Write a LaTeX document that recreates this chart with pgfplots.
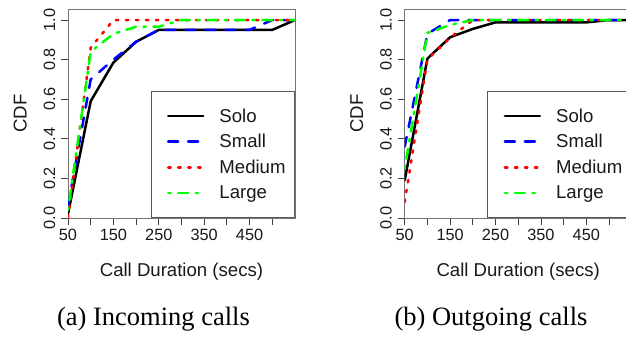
\documentclass[border=0pt]{standalone}
\usepackage{pgfplots}
\pgfplotsset{compat=1.18}
\usepackage{fontspec}
\setmainfont{Liberation Serif}
\newfontfamily\arial{Liberation Sans}
\definecolor{rblue}{RGB}{0,0,255}
\definecolor{rred}{RGB}{255,0,0}
\definecolor{rgreen}{RGB}{0,255,0}
\newcommand{\labfont}{\arial\fontsize{18.6bp}{21bp}\selectfont}
\pgfplotsset{
  rcdf/.style={
    scale only axis, width=227bp, height=209bp,
    xmin=50, xmax=550, ymin=0, ymax=1.0556,
    axis line style={black!55, line width=0.8bp},
    tick style={black!75, line width=0.8bp},
    tick align=outside, major tick length=7bp,
    xtick={50,100,...,500}, xticklabels={50,,150,,250,,350,,450,},
    ytick={0,0.2,0.4,0.6,0.8,1.0}, yticklabels={0.0,0.2,0.4,0.6,0.8,1.0},
    xtick pos=left, ytick pos=left,
    ticklabel style={font=\arial\fontsize{16.3bp}{19bp}\selectfont, text=black!90},
    xticklabel style={anchor=base}, xticklabel shift=15bp,
    yticklabel style={rotate=90, anchor=base}, yticklabel shift=6bp,
    xlabel={Call Duration (secs)}, ylabel={CDF},
    every axis x label/.style={at={([yshift=-58.3bp]axis description cs:0.5,0)}, anchor=base, font=\labfont, text=black!90},
    every axis y label/.style={at={([xshift=-41.5bp]axis description cs:0,0.5)}, rotate=90, anchor=base, font=\labfont, text=black!90},
    legend cell align=left,
    legend style={at={(rel axis cs:1,0)}, anchor=south east, draw=black!65, line width=0.8bp,
      fill=white, inner xsep=9bp, inner ysep=11.6bp, row sep=0bp, column sep=15bp,
      font=\labfont, text=black!90,
      nodes={inner sep=0pt, minimum height=25.7bp}},
    legend image code/.code={\path (0bp,0bp); \draw[##1] (7bp,0bp) -- (42bp,0bp);},
    every axis plot/.append style={line width=2.5bp, line cap=round, line join=round},
  },
  solo/.style={black, solid},
  small/.style={rblue, dash pattern=on 10bp off 10bp},
  medium/.style={rred, dash pattern=on 2.5bp off 7.5bp},
  large/.style={rgreen, dash pattern=on 2.5bp off 7.5bp on 10bp off 7.5bp},
}
\begin{document}
\begin{tikzpicture}
\useasboundingbox (0bp,0bp) rectangle (626bp,337bp);
% (a) Incoming
\begin{axis}[rcdf, at={(68bp,119bp)}, anchor=south west]
\addplot[solo] coordinates {(50,0.02)(100,0.59)(150,0.785)(200,0.89)(250,0.95)(300,0.95)(350,0.95)(400,0.95)(450,0.95)(500,0.95)(550,1.0)};
\addplot[small] coordinates {(50,0.06)(100,0.70)(150,0.80)(200,0.89)(250,0.95)(300,0.95)(350,0.95)(400,0.95)(450,0.95)(500,1.0)(550,1.0)};
\addplot[medium] coordinates {(50,0.0)(100,0.86)(150,1.0)(200,1.0)(250,1.0)(300,1.0)(350,1.0)(400,1.0)(450,1.0)(500,1.0)(550,1.0)};
\addplot[large] coordinates {(50,0.04)(100,0.84)(150,0.93)(200,0.966)(250,0.966)(300,1.0)(350,1.0)(400,1.0)(450,1.0)(500,1.0)(550,1.0)};
\legend{Solo,Small,Medium,Large}
\end{axis}
% (b) Outgoing
\begin{axis}[rcdf, at={(404.7bp,119bp)}, anchor=south west]
\addplot[solo] coordinates {(50,0.19)(100,0.805)(150,0.913)(200,0.955)(250,0.988)(300,0.988)(350,0.988)(400,0.988)(450,0.988)(500,1.0)(550,1.0)};
\addplot[small] coordinates {(50,0.36)(100,0.93)(150,1.0)(200,1.0)(250,1.0)(300,1.0)(350,1.0)(400,1.0)(450,1.0)(500,1.0)(550,1.0)};
\addplot[medium] coordinates {(50,0.08)(100,0.80)(150,0.91)(200,1.0)(250,1.0)(300,1.0)(350,1.0)(400,1.0)(450,1.0)(500,1.0)(550,1.0)};
\addplot[large] coordinates {(50,0.25)(100,0.935)(150,0.975)(200,1.0)(250,1.0)(300,1.0)(350,1.0)(400,1.0)(450,1.0)(500,1.0)(550,1.0)};
\legend{Solo,Small,Medium,Large}
\end{axis}
\node[font=\fontsize{26.5bp}{30bp}\selectfont, anchor=base] at (153.5bp,12bp) {(a) Incoming calls};
\node[font=\fontsize{26.5bp}{30bp}\selectfont, anchor=base] at (491bp,12bp) {(b) Outgoing calls};
\end{tikzpicture}
\end{document}
